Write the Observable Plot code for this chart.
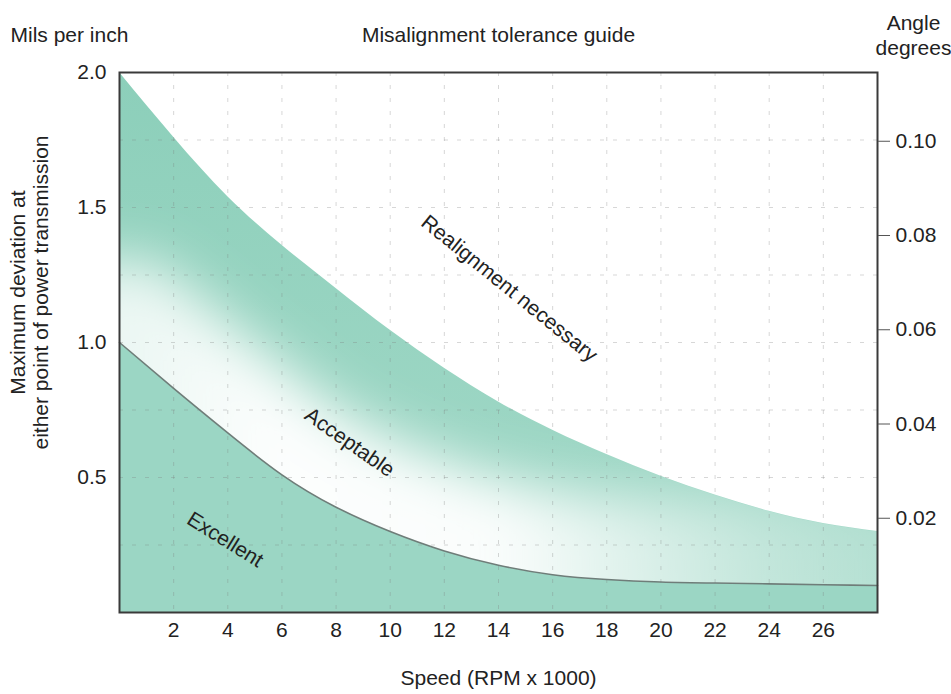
<!DOCTYPE html>
<html>
<head>
<meta charset="utf-8">
<script src="https://cdn.jsdelivr.net/npm/d3@7"></script>
<script src="https://cdn.jsdelivr.net/npm/@observablehq/plot@0.6"></script>
<style>
  html, body { margin: 0; padding: 0; background: #fff; }
  #chart { width: 951px; height: 694px; }
</style>
</head>
<body>
<div id="chart"></div>
<script>
// ---- data ----
const speed = [0, 2, 4, 6, 8, 10, 12, 14, 16, 18, 20, 22, 24, 26, 28];           // RPM x 1000
const excellentMax = [1.0, 0.83, 0.665, 0.51, 0.39, 0.30, 0.228, 0.175, 0.14, 0.122, 0.113, 0.109, 0.106, 0.103, 0.10];
const acceptableMax = [2.0, 1.76, 1.54, 1.36, 1.2, 1.045, 0.905, 0.78, 0.675, 0.585, 0.505, 0.435, 0.375, 0.33, 0.30];

const xTicks = [2, 4, 6, 8, 10, 12, 14, 16, 18, 20, 22, 24, 26];
const yTicks = [0.5, 1.0, 1.5, 2.0];
const gridLevels = [0.25, 0.5, 0.75, 1.0, 1.25, 1.5, 1.75];
const angleTicks = [0.02, 0.04, 0.06, 0.08, 0.10];   // degrees

const regionLabels = ["Excellent", "Acceptable", "Realignment necessary"];
const labelSpeed = [3.9, 8.5, 14.4];
const labelMils = [0.27, 0.63, 1.2];
const labelAngle = [32, 35, 39];

// ---- derived tables ----
const rows = speed.map((s, i) => ({speed: s, excellent: excellentMax[i], acceptable: acceptableMax[i]}));
const labels = regionLabels.map((t, i) => ({text: t, speed: labelSpeed[i], mils: labelMils[i], angle: labelAngle[i]}));
const degToMils = d => d * Math.PI / 180 * 1000;
const milsToDeg = m => m / 1000 * 180 / Math.PI;

const teal = "#9bd6c4";
const curve = "natural";
const font = "'Liberation Sans', Arial, Helvetica, sans-serif";
const fs = 21;

const svg = Plot.plot({
  width: 951,
  height: 694,
  marginLeft: 119,
  marginRight: 74,
  marginTop: 72,
  marginBottom: 82,
  x: {domain: [0, 28]},
  y: {domain: [0, 2]},
  style: {fontFamily: font, fontSize: fs + "px", color: "#222", background: "#fff"},
  marks: [
    Plot.areaY(rows, {x: "speed", y: "excellent", fill: teal, curve}),
    Plot.areaY(rows, {x: "speed", y1: "excellent", y2: "acceptable", fill: "url(#accFill)", curve}),
    Plot.line(rows, {x: "speed", y: "excellent", stroke: "url(#glowStroke)", strokeWidth: 170, curve}),
    Plot.gridX({ticks: xTicks, stroke: "#7a7a7a", strokeOpacity: 0.3, strokeDasharray: "4,9"}),
    Plot.gridY({ticks: gridLevels, stroke: "#7a7a7a", strokeOpacity: 0.3, strokeDasharray: "4,9"}),
    Plot.line(rows, {x: "speed", y: "excellent", stroke: "#6f7d79", strokeWidth: 1.6, curve}),
    Plot.frame({stroke: "#3a3a3a", strokeWidth: 2}),
    Plot.axisX({ticks: xTicks, tickSize: 0, tickPadding: 10, fontSize: fs, label: null}),
    Plot.axisY({ticks: yTicks, tickSize: 0, tickPadding: 13, fontSize: fs, tickFormat: d3.format(".1f"), label: null}),
    Plot.axisY({anchor: "right", ticks: angleTicks.map(degToMils), tickSize: 12, tickPadding: 6, fontSize: fs,
                stroke: "#555", tickFormat: m => d3.format(".2f")(milsToDeg(m)), label: null}),
    Plot.text(labels, {x: "speed", y: "mils", text: "text", rotate: "angle", fontSize: fs, fill: "#222"}),
    // titles and axis names
    Plot.text(["Misalignment tolerance guide"], {frameAnchor: "top", textAnchor: "middle", lineAnchor: "middle", dy: -37, fontSize: fs, fill: "#222"}),
    Plot.text(["Mils per inch"], {frameAnchor: "top-left", textAnchor: "start", lineAnchor: "middle", dx: -109, dy: -37, fontSize: fs, fill: "#222"}),
    Plot.text(["Angle\ndegrees"], {frameAnchor: "top-right", textAnchor: "middle", lineAnchor: "middle", dx: 36, dy: -38, lineHeight: 1.2, fontSize: fs, fill: "#222"}),
    Plot.text(["Speed (RPM x 1000)"], {frameAnchor: "bottom", textAnchor: "middle", lineAnchor: "middle", dy: 66, fontSize: fs, fill: "#222"}),
    Plot.text(["Maximum deviation at\neither point of power transmission"], {frameAnchor: "left", rotate: -90, textAnchor: "middle", lineAnchor: "middle",
               dx: -90, dy: -50, lineHeight: 1.1, fontSize: fs, fill: "#222"})
  ]
});

// gradients, blur and clipping for the shaded "Acceptable" band
try {
  const root = d3.select(svg);
  const defs = root.insert("defs", ":first-child");
  const acc = defs.append("linearGradient").attr("id", "accFill").attr("x1", 0).attr("y1", 0).attr("x2", 0).attr("y2", 1);
  acc.append("stop").attr("offset", 0).attr("stop-color", "#8ccfba");
  acc.append("stop").attr("offset", 1).attr("stop-color", "#a3d9c8");
  const glow = defs.append("linearGradient").attr("id", "glowStroke").attr("x1", 0).attr("y1", 0).attr("x2", 1).attr("y2", 0);
  [[0, 0.8], [0.2, 0.97], [0.5, 0.95], [0.7, 0.6], [0.85, 0.35], [1, 0.2]].forEach(([o, a]) =>
    glow.append("stop").attr("offset", o).attr("stop-color", "#fff").attr("stop-opacity", a));
  const filt = defs.append("filter").attr("id", "glowBlur")
    .attr("x", "-20%").attr("y", "-100%").attr("width", "140%").attr("height", "300%");
  filt.append("feGaussianBlur").attr("stdDeviation", 27);

  const areaGroups = svg.querySelectorAll('g[aria-label="area"]');
  const lineGroups = svg.querySelectorAll('g[aria-label="line"]');
  const accPathEl = areaGroups.length > 1 ? areaGroups[1].querySelector("path") : null;
  if (accPathEl && lineGroups.length > 0) {
    defs.append("clipPath").attr("id", "accClip").append("path").attr("d", accPathEl.getAttribute("d"));
    lineGroups[0].setAttribute("filter", "url(#glowBlur)");
    lineGroups[0].setAttribute("clip-path", "url(#accClip)");
  }
} catch (e) { console.error(e); }

document.getElementById("chart").appendChild(svg);
</script>
</body>
</html>
